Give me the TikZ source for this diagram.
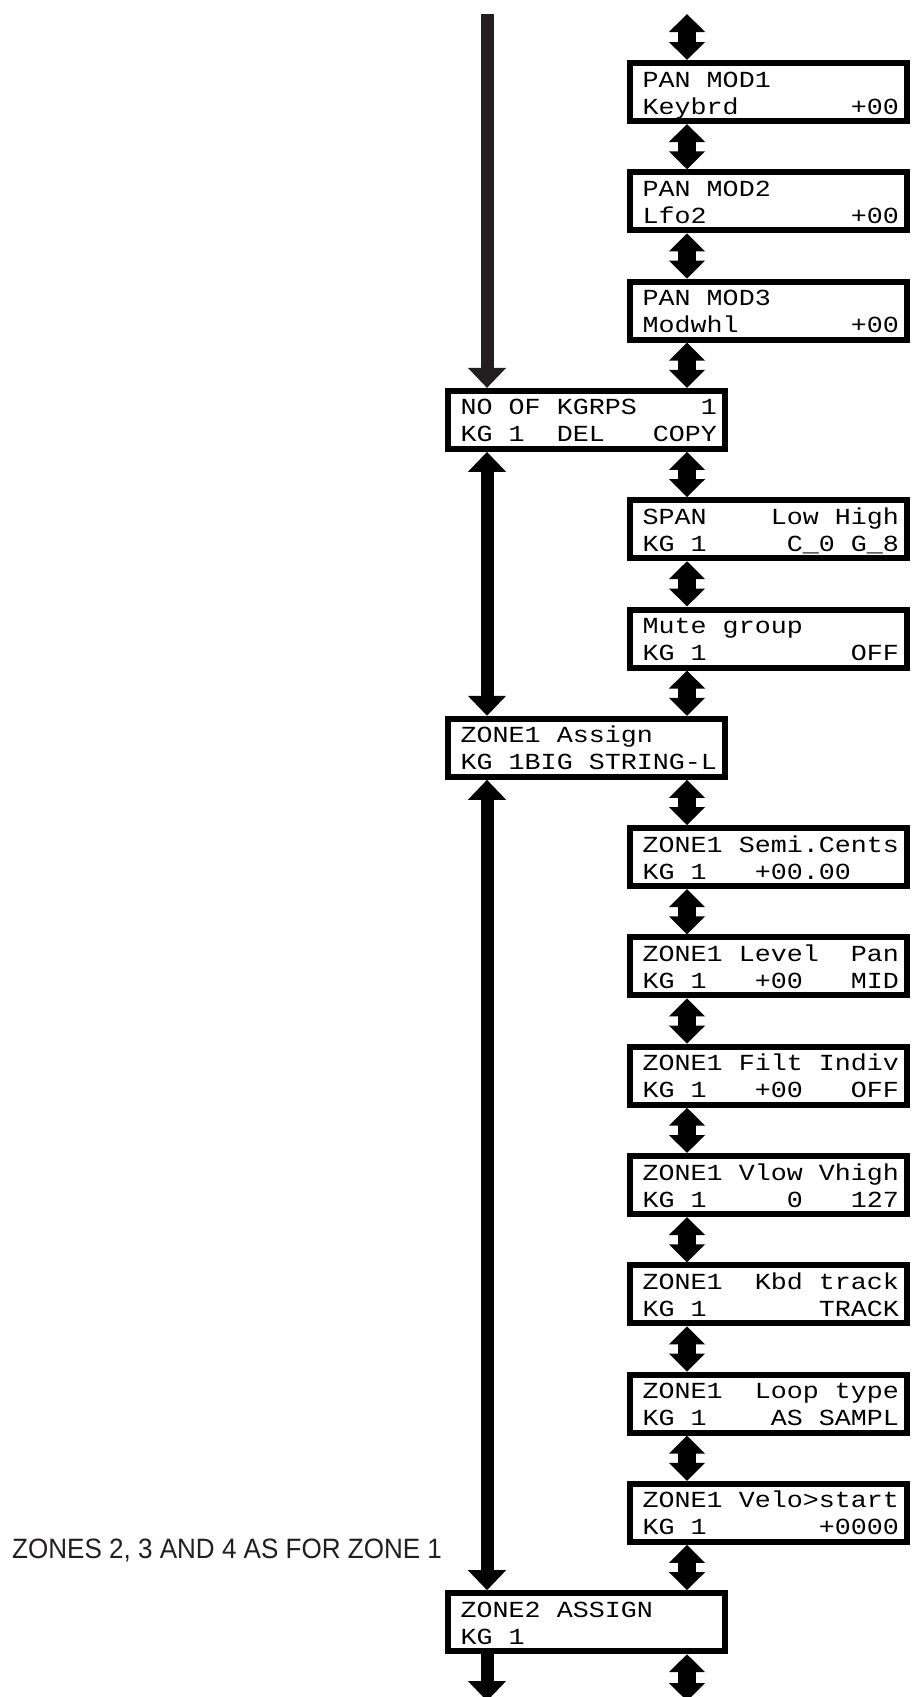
\documentclass[tikz,border=0pt]{standalone}
\usepackage{fontspec}
\usetikzlibrary{arrows.meta,calc}
\newfontfamily\lcdfont[FakeStretch=1.16]{Liberation Mono}
\newfontfamily\notefont[FakeStretch=0.93]{Liberation Sans}
\definecolor{ink}{RGB}{35,31,32}
\tikzset{
  lcd/.style={draw,fill=white,line width=6pt,minimum width=277pt,minimum height=58pt,inner sep=0pt,anchor=north west},
  row/.style={anchor=base west,inner sep=0pt,font=\fontsize{23}{28}\lcdfont},
  dbl/.style={line width=18pt,{Triangle[length=18pt,width=35pt]}-{Triangle[length=18pt,width=35pt]}},
  trunk/.style={line width=13pt,-{Triangle[length=20pt,width=37pt]}},
  trunkdbl/.style={line width=13pt,{Triangle[length=20pt,width=37pt]}-{Triangle[length=20pt,width=37pt]}}
}
\newcommand{\lcdbox}[5]{
  \node[lcd] (#1) at (#2,{60+109.3*#3}) {};
  \node[row] (#1-a) at ($(#1.north west)+(15.5,27)$) {#4};
  \node[row] (#1-b) at ($(#1.north west)+(15.5,54)$) {#5};
}

\begin{document}
\begin{tikzpicture}[x=1pt,y=-1pt]
  \path[use as bounding box,fill=white] (0,0) rectangle (911,1697);

  % 两列的箭头位置
  \coordinate (lx) at (487,0);
  \coordinate (rx) at (687,0);
  \coordinate (lefttop) at (487,14);
  \coordinate (righttop) at (687,14);
  \coordinate (leftend) at (487,1701);
  \coordinate (rightend) at (687,1701);

  % ================= 显示屏 =================
  \lcdbox{panA}{627}{0}{PAN MOD1}{Keybrd~~~~~~~+00}
  \lcdbox{panB}{627}{1}{PAN MOD2}{Lfo2~~~~~~~~~+00}
  \lcdbox{panC}{627}{2}{PAN MOD3}{Modwhl~~~~~~~+00}
  \lcdbox{kgrps}{445}{3}{NO~OF~KGRPS~~~~1}{KG~1~~DEL~~~COPY}
  \lcdbox{span}{627}{4}{SPAN~~~~Low~High}{KG~1~~~~~C\_0~G\_8}
  \lcdbox{mute}{627}{5}{Mute group}{KG~1~~~~~~~~~OFF}
  \lcdbox{assignA}{445}{6}{ZONE1 Assign}{KG~1BIG~STRING-L}
  \lcdbox{semi}{627}{7}{ZONE1 Semi.Cents}{KG~1~~~+00.00}
  \lcdbox{level}{627}{8}{ZONE1~Level~~Pan}{KG~1~~~+00~~~MID}
  \lcdbox{filt}{627}{9}{ZONE1 Filt Indiv}{KG~1~~~+00~~~OFF}
  \lcdbox{vrange}{627}{10}{ZONE1 Vlow Vhigh}{KG~1~~~~~0~~~127}
  \lcdbox{kbd}{627}{11}{ZONE1~~Kbd~track}{KG~1~~~~~~~TRACK}
  \lcdbox{loop}{627}{12}{ZONE1~~Loop~type}{KG~1~~~~AS~SAMPL}
  \lcdbox{velo}{627}{13}{ZONE1 Velo>start}{KG~1~~~~~~~+0000}
  \lcdbox{assignB}{445}{14}{ZONE2 ASSIGN}{KG 1}

  % ================= 右列：逐项翻页 =================
  \draw[dbl] (righttop) -- (panA.north -| rx);
  \foreach \a/\b in {panA/panB,panB/panC,panC/kgrps,kgrps/span,span/mute,mute/assignA,
                     assignA/semi,semi/level,level/filt,filt/vrange,vrange/kbd,kbd/loop,
                     loop/velo,velo/assignB}
    \draw[dbl] (\a.south -| rx) -- (\b.north -| rx);
  \draw[dbl] (assignB.south -| rx) -- (rightend);

  % ================= 左列：跳转 =================
  \draw[trunk,ink] (lefttop) -- (kgrps.north -| lx);
  \draw[trunkdbl] (kgrps.south -| lx) -- (assignA.north -| lx);
  \draw[trunkdbl] (assignA.south -| lx) -- (assignB.north -| lx);
  \draw[trunk] (assignB.south -| lx) -- (leftend);

  \node[anchor=base west,inner sep=0pt,text=ink,font=\fontsize{28}{32}\notefont] (note) at (12,1558) {ZONES 2, 3 AND 4 AS FOR ZONE 1};
\end{tikzpicture}
\end{document}
